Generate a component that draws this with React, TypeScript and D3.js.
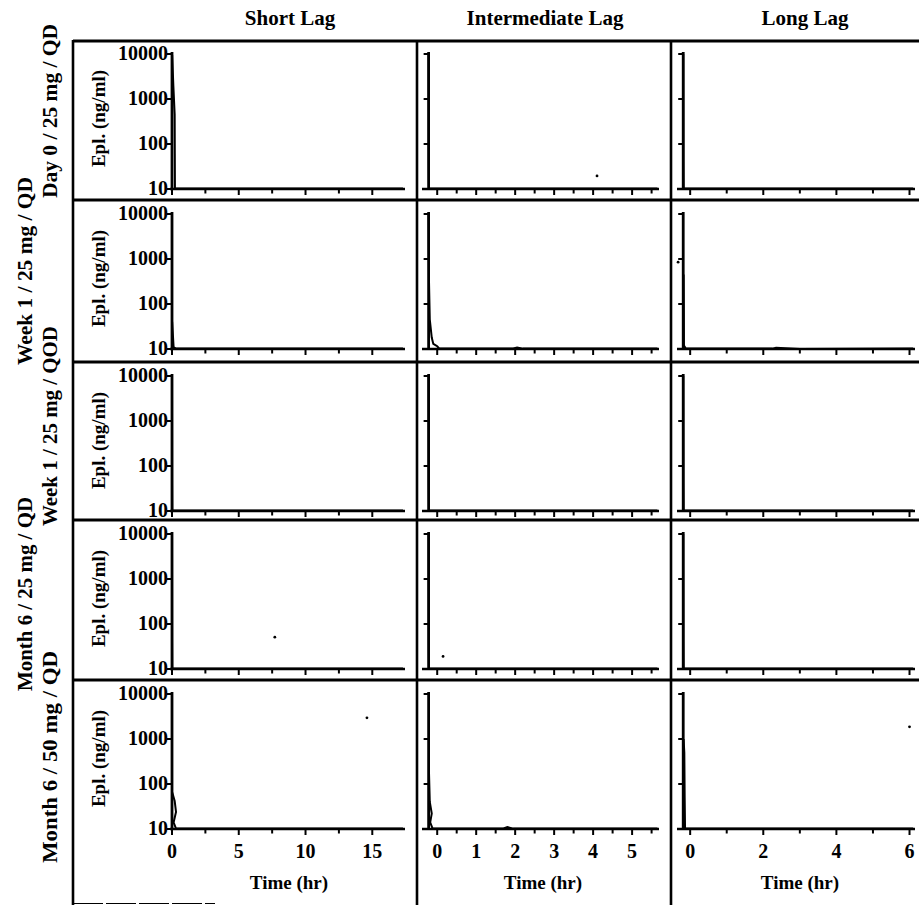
import React from "react";
import * as d3 from "d3";

// ---------- data ----------
const COLUMN_TITLES = ["Short Lag", "Intermediate Lag", "Long Lag"];
const ROW_TITLES = [
  "Day 0 / 25 mg / QD",
  "Week 1 / 25 mg / QD",
  "Week 1 / 25 mg / QOD",
  "Month 6 / 25 mg / QD",
  "Month 6 / 50 mg / QD",
];
const Y_TITLE = "Epl. (ng/ml)";
const X_TITLE = "Time (hr)";
const Y_DOMAIN = [10, 10000];
const Y_TICK_VALUES = [10, 100, 1000, 10000];
const Y_TICK_LABELS = ["10", "100", "1000", "10000"];
const X_DOMAINS = [
  [-0.15, 17.45],
  [-0.39, 5.69],
  [-0.36, 6.15],
];
const X_LABEL_TICKS = [
  [0, 5, 10, 15],
  [0, 1, 2, 3, 4, 5],
  [0, 2, 4, 6],
];
const X_MINOR_TICKS = [
  [2.5, 7.5, 12.5],
  [0.5, 1.5, 2.5, 3.5, 4.5, 5.5],
  [1, 3, 5],
];
const Y_AXIS_TIME = [0, -0.22, -0.19];

// concentration-time series, one per row, for each lag group: [time (hr), Epl (ng/ml)]
const SHORT_LAG_SERIES = [
  [[0, 10], [0.01, 9500], [0.1, 2000], [0.2, 450], [0.21, 60], [0.22, 10.2], [17.3, 10.2]],
  [[0, 10.2], [0.01, 40], [0.05, 25], [0.12, 11], [0.3, 10.2], [17.3, 10.2]],
  [[0, 10], [0, 9500], [0.01, 40], [0.02, 10.2], [17.3, 10.2]],
  [[0, 10], [0, 9500], [0.01, 40], [0.02, 10.2], [17.3, 10.2]],
  [[0.02, 65], [0.2, 42], [0.3, 24], [0.12, 14], [0.3, 10.2], [17.3, 10.2]],
];
const INTERMEDIATE_LAG_SERIES = [
  [[-0.22, 10000], [-0.215, 40], [-0.21, 10.2], [5.65, 10.2]],
  [[-0.22, 10000], [-0.21, 300], [-0.19, 45], [-0.14, 18], [-0.1, 13], [0.0, 11.5], [0.05, 10.3], [1.95, 10.3], [2.05, 10.8], [2.2, 10.2], [5.65, 10.2]],
  [[-0.22, 10000], [-0.215, 40], [-0.21, 10.2], [5.65, 10.2]],
  [[-0.22, 10000], [-0.215, 40], [-0.21, 10.2], [5.65, 10.2]],
  [[-0.21, 170], [-0.19, 40], [-0.14, 22], [-0.18, 14], [-0.12, 10.3], [1.7, 10.3], [1.8, 11], [1.95, 10.2], [5.65, 10.2]],
];
const LONG_LAG_SERIES = [
  [[-0.19, 10000], [-0.185, 40], [-0.18, 10.2], [6.1, 10.2]],
  [[-0.18, 450], [-0.175, 100], [-0.17, 12], [-0.12, 10.2], [2.25, 10.2], [2.35, 10.7], [3.0, 10], [6.1, 10.2]],
  [[-0.19, 10000], [-0.185, 40], [-0.18, 10.2], [6.1, 10.2]],
  [[-0.19, 10000], [-0.185, 40], [-0.18, 10.2], [6.1, 10.2]],
  [[-0.18, 1000], [-0.16, 500], [-0.15, 50], [-0.14, 10.2], [6.1, 10.2]],
];
// isolated observations: [row, column, time, Epl]
const SINGLE_POINTS = [
  [0, 1, 4.1, 19.5],
  [1, 2, -0.33, 850],
  [3, 0, 7.7, 51],
  [3, 1, 0.15, 19],
  [4, 0, 14.6, 2950],
  [4, 2, 6.0, 1860],
];

// ---------- layout ----------
const W = 919;
const H = 905;
const COL_RANGES = [
  [170, 405],
  [422, 659],
  [677, 915],
];
const ROW_TOPS = [40, 200, 362, 520, 680];
const HEADER_X = [290, 545, 805];
const TIME_TITLE_X = [289, 543, 800];
const GRID_X = [73, 417, 671];
const ROW_LABEL_POS = [
  { x: 57, y: 111, len: 174 },
  { x: 32, y: 271, len: 188 },
  { x: 57, y: 426, len: 200 },
  { x: 32, y: 594, len: 194 },
  { x: 57, y: 757, len: 212 },
];
const FONT = "'Liberation Serif', 'Times New Roman', serif";

const ALL_SERIES = [SHORT_LAG_SERIES, INTERMEDIATE_LAG_SERIES, LONG_LAG_SERIES];

function Panel({ row, col }: { row: number; col: number }) {
  const top = ROW_TOPS[row];
  const x = d3.scaleLinear().domain(X_DOMAINS[col]).range(COL_RANGES[col]);
  const y = d3.scaleLog().domain(Y_DOMAIN).range([top + 149, top + 14]);
  const yAxisX = x(Y_AXIS_TIME[col]);
  const y0 = y(10);
  const line = d3
    .line<number[]>()
    .x((d) => x(d[0]))
    .y((d) => y(d[1]));
  const series = ALL_SERIES[col][row];
  const pts = SINGLE_POINTS.filter((p) => p[0] === row && p[1] === col);
  const isBottom = row === ROW_TOPS.length - 1;
  return (
    <g>
      {/* x axis */}
      <line x1={COL_RANGES[col][0]} x2={COL_RANGES[col][1]} y1={y0} y2={y0} stroke="#000" strokeWidth={2.6} />
      {X_LABEL_TICKS[col].map((t) => (
        <line key={"M" + t} x1={x(t)} x2={x(t)} y1={y0} y2={y0 + 6} stroke="#000" strokeWidth={2} />
      ))}
      {X_MINOR_TICKS[col].map((t) => (
        <line key={"m" + t} x1={x(t)} x2={x(t)} y1={y0} y2={y0 + 4.5} stroke="#000" strokeWidth={2} />
      ))}
      {isBottom &&
        X_LABEL_TICKS[col].map((t) => (
          <text
            key={"l" + t}
            x={x(t)}
            y={y0 + 29}
            textAnchor="middle"
            fontFamily={FONT}
            fontWeight="bold"
            fontSize={20}
          >
            {t}
          </text>
        ))}
      {isBottom && (
        <text x={TIME_TITLE_X[col]} y={889} textAnchor="middle" fontFamily={FONT} fontWeight="bold" fontSize={19}>
          {X_TITLE}
        </text>
      )}
      {/* y axis */}
      <line x1={yAxisX} x2={yAxisX} y1={y0} y2={y(10000) - 2} stroke="#000" strokeWidth={2.8} />
      {Y_TICK_VALUES.map((v, i) => (
        <g key={"y" + v}>
          <line x1={yAxisX - 5} x2={yAxisX} y1={y(v)} y2={y(v)} stroke="#000" strokeWidth={2} />
          {col === 0 && (
            <text
              x={yAxisX - 4}
              y={y(v) + 6}
              textAnchor="end"
              fontFamily={FONT}
              fontWeight="bold"
              fontSize={20}
            >
              {Y_TICK_LABELS[i]}
            </text>
          )}
        </g>
      ))}
      {col === 0 && (
        <text
          transform={`translate(105, ${(y(10) + y(10000)) / 2 - 3}) rotate(-90)`}
          textAnchor="middle"
          fontFamily={FONT}
          fontWeight="bold"
          fontSize={19}
        >
          {Y_TITLE}
        </text>
      )}
      {/* data */}
      <path d={line(series) || ""} fill="none" stroke="#000" strokeWidth={2} />
      {pts.map((p, i) => (
        <circle key={i} cx={x(p[2])} cy={y(p[3])} r={1.4} fill="#000" />
      ))}
    </g>
  );
}

export default function App() {
  return (
    <svg
      width={W}
      height={H}
      viewBox={`0 0 ${W} ${H}`}
      style={{ position: "absolute", left: 0, top: 0, background: "#fff" }}
    >
      <rect x={0} y={0} width={W} height={H} fill="#fff" />
      {/* column headers */}
      {COLUMN_TITLES.map((t, i) => (
        <text key={t} x={HEADER_X[i]} y={25} textAnchor="middle" fontFamily={FONT} fontWeight="bold" fontSize={21}>
          {t}
        </text>
      ))}
      {/* row labels */}
      {ROW_TITLES.map((t, i) => (
        <text
          key={t}
          transform={`translate(${ROW_LABEL_POS[i].x}, ${ROW_LABEL_POS[i].y}) rotate(-90)`}
          textAnchor="middle"
          fontFamily={FONT}
          fontWeight="bold"
          fontSize={21}
          textLength={ROW_LABEL_POS[i].len}
          lengthAdjust="spacingAndGlyphs"
        >
          {t}
        </text>
      ))}
      {/* frame grid */}
      <line x1={GRID_X[0]} x2={W} y1={41} y2={41} stroke="#000" strokeWidth={2.8} />
      {ROW_TOPS.slice(1).map((yy) => (
        <line key={"h" + yy} x1={GRID_X[0]} x2={W} y1={yy} y2={yy} stroke="#000" strokeWidth={2.8} />
      ))}
      {GRID_X.map((xx) => (
        <line key={"v" + xx} x1={xx} x2={xx} y1={40} y2={H} stroke="#000" strokeWidth={2.6} />
      ))}
      <line x1={73} x2={215} y1={903.5} y2={903.5} stroke="#000" strokeWidth={1.2} strokeDasharray="30 3" />
      {ROW_TITLES.map((_, r) =>
        COLUMN_TITLES.map((_, c) => <Panel key={r + "-" + c} row={r} col={c} />)
      )}
    </svg>
  );
}
